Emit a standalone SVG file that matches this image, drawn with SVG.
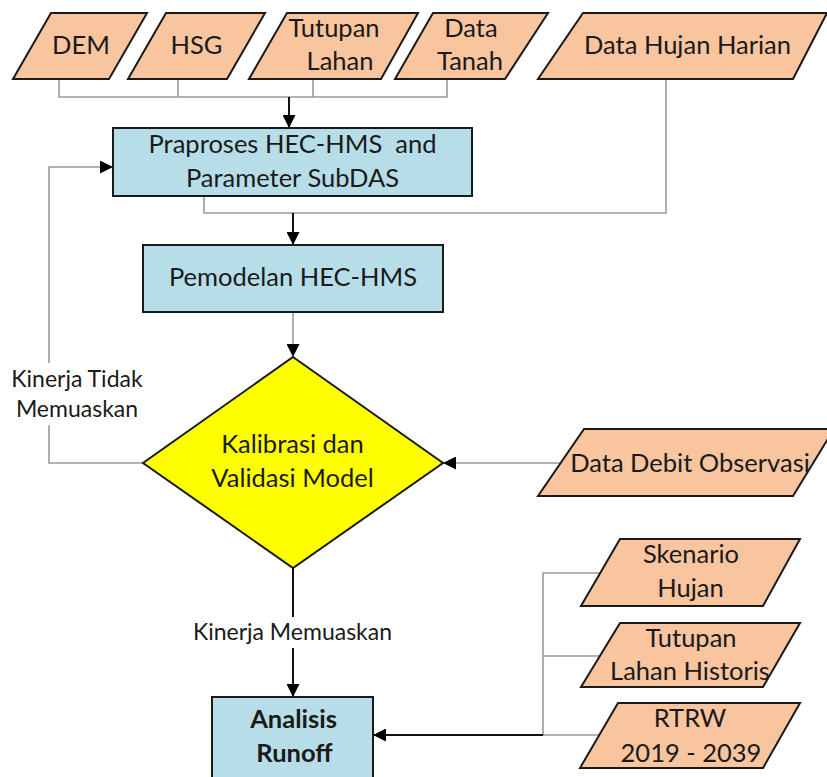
<svg xmlns="http://www.w3.org/2000/svg" width="827" height="777" viewBox="0 0 827 777">
<style>
.io{fill:#f8c59f;stroke:#1a1a1a;stroke-width:2;stroke-linejoin:miter}
.proc{fill:#b7dde8;stroke:#1a1a1a;stroke-width:2}
.dec{fill:#ffff00;stroke:#1a1a1a;stroke-width:2}
.t{font-family:Lato,"Open Sans",sans-serif;font-size:25.5px;fill:#1a1a1a;text-anchor:middle}
.lbl{font-family:Lato,"Open Sans",sans-serif;font-size:23px;fill:#1a1a1a;text-anchor:middle}
.b{font-weight:bold}
.g{fill:none;stroke:#9a9a9a;stroke-width:1.6}
.k{fill:none;stroke:#111;stroke-width:2}
</style>
<defs>
<marker id="ah" viewBox="0 0 13 13" refX="13" refY="6.5" markerWidth="13" markerHeight="13" markerUnits="userSpaceOnUse" orient="auto">
<path d="M0,0 L13,6.5 L0,13 z" fill="#000"/>
</marker>
</defs>
<rect width="827" height="777" fill="#fff"/>
<g id="connectors">
<path class="g" d="M59 79 V97 H447 V79 M178 79 V97 M313 79 V97"/>
<path class="k" d="M289 97 V128" marker-end="url(#ah)"/>
<path class="g" d="M204 196 V213 H666 V79"/>
<path class="k" d="M293 213 V245" marker-end="url(#ah)"/>
<path class="g" d="M293 312 V357" marker-end="url(#ah)"/>
<path class="g" d="M143 463 H49 V425"/>
<path class="g" d="M49 363 V167 H113" marker-end="url(#ah)"/>
<path class="g" d="M561 463 H443" marker-end="url(#ah)"/>
<path class="k" d="M293 568 V617"/>
<path class="k" d="M293 648 V697" marker-end="url(#ah)"/>
<path class="g" d="M600 573 H543 V735 H599 M543 656 H600"/>
<path class="k" d="M543 735 H373" marker-end="url(#ah)"/>
</g>
<g id="dem"><polygon class="io" points="51,13 147,13 109,79 13,79"/><text class="t" x="81" y="54">DEM</text></g>
<g id="hsg"><polygon class="io" points="166,13 265,13 227,79 128,79"/><text class="t" x="196.5" y="54">HSG</text></g>
<g id="tutupan"><polygon class="io" points="287,13 418,13 381,79 249,79"/><text class="t" x="334" y="37">Tutupan</text><text class="t" x="340" y="70">Lahan</text></g>
<g id="tanah"><polygon class="io" points="433,13 548,13 505,79 395,79"/><text class="t" x="471" y="37">Data</text><text class="t" x="470" y="70">Tanah</text></g>
<g id="hujan"><polygon class="io" points="583,13 827,13 793,79 538,79"/><text class="t" x="687.5" y="54">Data Hujan Harian</text></g>
<g id="praproses"><rect class="proc" x="113" y="128" width="359" height="68"/><text class="t" x="292.5" y="153" xml:space="preserve">Praproses HEC-HMS  and</text><text class="t" x="292.5" y="187">Parameter SubDAS</text></g>
<g id="pemodelan"><rect class="proc" x="143" y="245" width="300" height="67"/><text class="t" x="293" y="286">Pemodelan HEC-HMS</text></g>
<g id="kalibrasi"><polygon class="dec" points="293,357 443,463 293,568 143,463"/><text class="t" x="292.5" y="453">Kalibrasi dan</text><text class="t" x="292.5" y="487">Validasi Model</text></g>
<g id="label-tidak"><text class="lbl" x="77" y="387">Kinerja Tidak</text><text class="lbl" x="77" y="417">Memuaskan</text></g>
<g id="debit"><polygon class="io" points="584,429 834,429 793,496 538,496"/><text class="t" x="690" y="472">Data Debit Observasi</text></g>
<g id="label-memuaskan"><text class="lbl" x="292.5" y="640">Kinerja Memuaskan</text></g>
<g id="skenario"><polygon class="io" points="620,539 800,539 763,606 581,606"/><text class="t" x="691" y="563">Skenario</text><text class="t" x="690.5" y="597">Hujan</text></g>
<g id="historis"><polygon class="io" points="620,623 800,623 763,687 581,687"/><text class="t" x="691" y="647">Tutupan</text><text class="t" x="690" y="680">Lahan Historis</text></g>
<g id="rtrw"><polygon class="io" points="618,703 800,703 763,768 580,768"/><text class="t" x="690" y="727">RTRW</text><text class="t" x="691" y="762">2019 - 2039</text></g>
<g id="runoff"><rect class="proc" x="212" y="697" width="161" height="100"/><text class="t b" x="293.5" y="728">Analisis</text><text class="t b" x="294.5" y="762">Runoff</text></g>
</svg>
